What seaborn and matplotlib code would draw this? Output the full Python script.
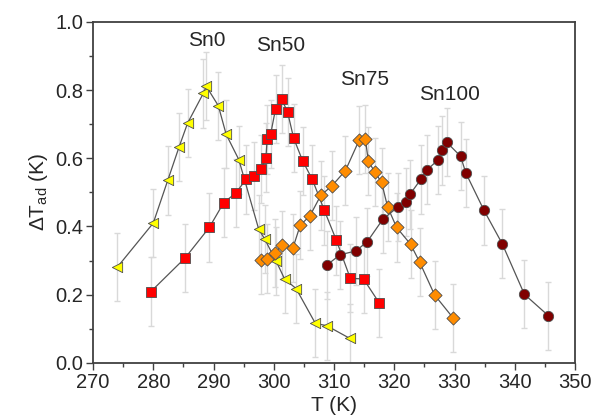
import numpy as np
import pandas as pd
import matplotlib
matplotlib.use('Agg')
import matplotlib.pyplot as plt
import seaborn as sns
from matplotlib.ticker import MultipleLocator

# --- data ---
t_sn0 = [274.0, 280.0, 282.4, 284.3, 285.7, 288.3, 288.8, 290.8, 292.1, 294.2, 297.5,
         298.5, 300.4, 301.8, 303.7, 306.9, 308.8, 312.6]
dt_sn0 = [0.28, 0.41, 0.535, 0.634, 0.703, 0.79, 0.811, 0.754, 0.67, 0.596, 0.392,
          0.363, 0.298, 0.246, 0.218, 0.116, 0.109, 0.072]

t_sn50 = [279.6, 285.3, 289.3, 291.7, 293.7, 295.4, 296.7, 297.9, 298.7, 298.9, 299.5,
          300.3, 301.3, 302.3, 303.3, 304.8, 306.4, 308.4, 310.4, 312.7, 314.9, 317.5]
dt_sn50 = [0.209, 0.308, 0.397, 0.47, 0.498, 0.538, 0.547, 0.568, 0.602, 0.655, 0.672,
           0.745, 0.774, 0.735, 0.659, 0.592, 0.538, 0.447, 0.359, 0.248, 0.246, 0.176]

t_sn75 = [297.9, 298.9, 300.2, 301.4, 303.2, 304.4, 306.0, 307.8, 309.7, 311.9, 314.2,
          315.2, 315.7, 316.8, 317.9, 318.9, 320.4, 322.7, 324.2, 326.7, 329.8]
dt_sn75 = [0.301, 0.306, 0.323, 0.345, 0.338, 0.404, 0.431, 0.491, 0.52, 0.564, 0.654,
           0.657, 0.591, 0.559, 0.529, 0.457, 0.397, 0.348, 0.296, 0.199, 0.131]

t_sn100 = [308.9, 311.0, 313.6, 315.5, 318.1, 320.6, 321.9, 322.6, 324.4, 325.5, 327.2,
           328.0, 328.7, 331.0, 331.9, 334.9, 337.9, 341.6, 345.6]
dt_sn100 = [0.288, 0.317, 0.328, 0.355, 0.421, 0.457, 0.472, 0.494, 0.538, 0.567, 0.594,
            0.623, 0.647, 0.606, 0.556, 0.447, 0.35, 0.201, 0.138]

err = 0.1  # error bars look constant

series = [
    ('Sn0', t_sn0, dt_sn0, '<', '#ffff00'),
    ('Sn50', t_sn50, dt_sn50, 's', '#ff0000'),
    ('Sn75', t_sn75, dt_sn75, 'D', '#ff8c00'),
    ('Sn100', t_sn100, dt_sn100, 'o', '#800000'),
]
label_pos = {'Sn0': (288.9, 0.944), 'Sn50': (301.1, 0.93),
             'Sn75': (315.1, 0.832), 'Sn100': (329.1, 0.786)}

sns.set_style("ticks")
plt.rcParams['font.family'] = ['Liberation Sans', 'DejaVu Sans']
plt.rcParams['mathtext.fontset'] = 'custom'
plt.rcParams['mathtext.rm'] = 'Liberation Sans'

fig = plt.figure(figsize=(6.04, 4.2), dpi=100)
ax = fig.add_axes([0.154, 0.136, 0.798, 0.812])

# error bars first so they sit underneath
for name, t, dt, mk, col in series:
    ax.errorbar(t, dt, yerr=err, fmt='none', ecolor='#d9d9d9', elinewidth=1,
                capsize=2.5, capthick=1, zorder=1)

for name, t, dt, mk, col in series:
    df = pd.DataFrame({'T': t, 'dT': dt})
    sns.lineplot(data=df, x='T', y='dT', sort=False, color='#555555', linewidth=0.9,
                 ax=ax, zorder=2)
    sns.scatterplot(data=df, x='T', y='dT', marker=mk, color=col, edgecolor='#4d4d4d',
                    linewidth=0.6, s=55 if mk != 'D' else 45, ax=ax, zorder=3)
    lx, ly = label_pos[name]
    ax.text(lx, ly, name, ha='center', va='center', fontsize=15)

ax.set_xlim(270, 350)
ax.set_ylim(0, 1.0)
ax.xaxis.set_major_locator(MultipleLocator(10))
ax.xaxis.set_minor_locator(MultipleLocator(5))
ax.yaxis.set_major_locator(MultipleLocator(0.2))
ax.yaxis.set_minor_locator(MultipleLocator(0.1))
ax.yaxis.set_major_formatter(matplotlib.ticker.FormatStrFormatter('%.1f'))

for sp in ax.spines.values():
    sp.set_color('#404040')
    sp.set_linewidth(1.3)
ax.tick_params(which='major', length=5, width=1, color='#404040', labelsize=14.5, pad=2)
ax.tick_params(which='minor', length=3, width=1, color='#404040')

ax.set_xlabel('T (K)', fontsize=15, labelpad=3)
ax.set_ylabel(r'ΔT$_{\mathrm{ad}}$ (K)', fontsize=15, labelpad=4)

fig.savefig('out.png', dpi=100)
